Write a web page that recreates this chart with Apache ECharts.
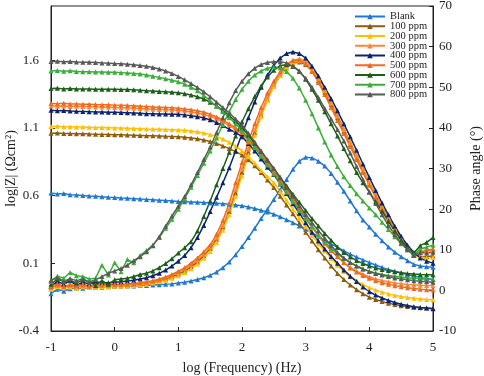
<!DOCTYPE html>
<html>
<head>
<meta charset="utf-8">
<script src="https://cdn.jsdelivr.net/npm/echarts@6/dist/echarts.min.js"></script>
<style>
  html, body { margin: 0; padding: 0; background: #fff; }
  #chart { width: 484px; height: 376px; }
</style>
</head>
<body>
<div id="chart"></div>
<script>
// log(f) grid, Hz
const logFreq = [-1.0,-0.9,-0.8,-0.7,-0.6,-0.5,-0.4,-0.3,-0.2,-0.1,0.0,0.1,0.2,0.3,0.4,0.5,0.6,0.7,0.8,0.9,
  1.0,1.1,1.2,1.3,1.4,1.5,1.6,1.7,1.8,1.9,2.0,2.1,2.2,2.3,2.4,2.5,2.6,2.7,2.8,2.9,
  3.0,3.1,3.2,3.3,3.4,3.5,3.6,3.7,3.8,3.9,4.0,4.1,4.2,4.3,4.4,4.5,4.6,4.7,4.8,4.9,5.0];

const names = ['Blank', '100 ppm', '200 ppm', '300 ppm', '400 ppm', '500 ppm', '600 ppm', '700 ppm', '800 ppm'];
const colors = ['#1f78d1', '#8c5e0a', '#ffc000', '#f9883c', '#0a2472', '#f06b1c', '#1d5e1a', '#3cae3a', '#595959'];

// log|Z| values
const zBlank = [0.62,0.612,0.615,0.606,0.604,0.6,0.597,0.595,0.592,0.588,0.585,0.582,0.58,0.577,0.574,0.572,0.569,0.566,0.563,0.56,
  0.557,0.555,0.553,0.551,0.549,0.546,0.543,0.54,0.536,0.531,0.525,0.516,0.505,0.492,0.478,0.462,0.443,0.422,0.4,0.376,
  0.352,0.325,0.298,0.27,0.243,0.217,0.192,0.168,0.146,0.125,0.105,0.087,0.07,0.055,0.041,0.029,0.017,0.006,-0.004,-0.012,-0.02];
const z100 = [1.06,1.062,1.058,1.059,1.056,1.056,1.054,1.053,1.052,1.051,1.05,1.049,1.048,1.046,1.044,1.042,1.041,1.04,1.038,1.037,
  1.035,1.031,1.026,1.019,1.01,1.0,0.985,0.967,0.947,0.925,0.9,0.865,0.82,0.77,0.715,0.66,0.595,0.53,0.465,0.398,
  0.33,0.265,0.2,0.14,0.08,0.025,-0.02,-0.06,-0.095,-0.125,-0.15,-0.168,-0.183,-0.195,-0.205,-0.213,-0.219,-0.224,-0.228,-0.231,-0.233];
const z200 = [1.11,1.112,1.108,1.109,1.106,1.106,1.104,1.103,1.102,1.101,1.1,1.099,1.097,1.095,1.093,1.091,1.09,1.089,1.088,1.087,
  1.085,1.082,1.077,1.071,1.062,1.05,1.035,1.017,0.993,0.965,0.93,0.888,0.84,0.785,0.74,0.695,0.63,0.565,0.5,0.435,
  0.37,0.305,0.245,0.19,0.135,0.085,0.04,0.0,-0.03,-0.057,-0.08,-0.098,-0.113,-0.126,-0.137,-0.146,-0.153,-0.159,-0.163,-0.167,-0.17];
const z300 = [1.262,1.26,1.261,1.258,1.259,1.257,1.256,1.255,1.254,1.252,1.25,1.249,1.247,1.245,1.243,1.24,1.238,1.236,1.234,1.232,
  1.23,1.225,1.218,1.21,1.199,1.185,1.166,1.144,1.117,1.087,1.052,1.008,0.958,0.895,0.833,0.77,0.705,0.636,0.566,0.498,
  0.43,0.366,0.303,0.244,0.192,0.148,0.106,0.07,0.042,0.019,0.0,-0.015,-0.027,-0.037,-0.045,-0.051,-0.056,-0.059,-0.062,-0.064,-0.065];
const z400 = [1.23,1.226,1.229,1.224,1.222,1.221,1.22,1.218,1.217,1.216,1.215,1.214,1.212,1.21,1.208,1.205,1.204,1.203,1.202,1.201,
  1.2,1.196,1.19,1.183,1.173,1.16,1.14,1.117,1.09,1.065,1.035,0.985,0.93,0.87,0.81,0.755,0.685,0.615,0.54,0.47,
  0.4,0.33,0.265,0.205,0.15,0.1,0.05,0.005,-0.035,-0.075,-0.11,-0.135,-0.156,-0.175,-0.19,-0.202,-0.212,-0.22,-0.226,-0.231,-0.235];
const z500 = [1.28,1.278,1.281,1.276,1.277,1.275,1.274,1.272,1.271,1.27,1.268,1.267,1.265,1.263,1.26,1.257,1.255,1.253,1.251,1.248,
  1.245,1.24,1.234,1.226,1.215,1.2,1.18,1.158,1.13,1.1,1.065,1.02,0.97,0.905,0.845,0.78,0.715,0.645,0.575,0.51,
  0.44,0.375,0.31,0.25,0.195,0.15,0.105,0.065,0.035,0.01,-0.01,-0.028,-0.043,-0.055,-0.065,-0.073,-0.08,-0.086,-0.091,-0.095,-0.098];
const z600 = [1.39,1.392,1.388,1.391,1.387,1.388,1.387,1.386,1.386,1.385,1.385,1.384,1.383,1.381,1.378,1.375,1.372,1.369,1.366,1.363,
  1.36,1.352,1.343,1.33,1.313,1.29,1.262,1.23,1.19,1.148,1.1,1.045,0.985,0.925,0.862,0.8,0.735,0.672,0.61,0.55,
  0.49,0.43,0.375,0.32,0.27,0.22,0.18,0.147,0.12,0.098,0.08,0.066,0.055,0.046,0.037,0.03,0.025,0.021,0.018,0.016,0.015];
const z700 = [1.52,1.523,1.518,1.521,1.516,1.515,1.514,1.513,1.512,1.511,1.51,1.508,1.505,1.502,1.497,1.49,1.482,1.473,1.463,1.452,
  1.44,1.422,1.4,1.375,1.34,1.3,1.26,1.22,1.175,1.13,1.08,1.02,0.955,0.89,0.825,0.76,0.69,0.625,0.555,0.49,
  0.43,0.37,0.31,0.26,0.21,0.17,0.135,0.105,0.08,0.058,0.04,0.028,0.018,0.01,0.004,-0.002,-0.007,-0.011,-0.015,-0.018,-0.02];
const z800 = [1.59,1.592,1.588,1.59,1.586,1.585,1.584,1.582,1.58,1.578,1.575,1.573,1.57,1.566,1.561,1.555,1.546,1.535,1.52,1.502,
  1.48,1.455,1.427,1.398,1.366,1.33,1.29,1.25,1.21,1.165,1.12,1.06,0.995,0.93,0.865,0.8,0.73,0.66,0.595,0.525,
  0.46,0.4,0.34,0.285,0.23,0.18,0.14,0.105,0.08,0.058,0.04,0.025,0.013,0.003,-0.008,-0.015,-0.022,-0.028,-0.033,-0.037,-0.04];

// phase angle values (deg)
const pBlank = [-0.8,0.3,-0.2,0.4,0.6,0.5,0.7,0.8,0.8,0.9,1.0,1.0,1.1,1.1,1.2,1.2,1.3,1.4,1.5,1.6,
  1.8,2.0,2.3,2.7,3.1,3.7,4.5,5.6,7.0,8.8,10.8,13.0,15.3,17.7,20.0,22.4,24.8,27.3,29.8,31.8,
  32.8,32.6,31.8,30.6,28.8,26.6,24.4,22.0,19.6,17.3,15.6,13.8,12.2,10.7,9.4,8.3,7.3,6.4,6.0,5.8,5.7];
const p100 = [0.6,1.1,0.7,1.0,0.8,1.0,0.9,1.0,1.0,1.1,1.1,1.2,1.3,1.4,1.5,1.7,2.0,2.3,2.8,3.3,
  4.0,4.8,5.8,7.0,8.5,10.3,12.6,15.6,19.4,24.0,29.0,34.0,38.8,43.2,47.0,50.3,52.9,54.8,55.9,56.2,
  55.6,54.0,51.6,48.8,45.7,42.5,39.2,35.9,32.6,29.4,26.2,23.1,20.2,17.4,14.8,12.4,10.4,8.7,8.4,8.3,8.5];
const p200 = [0.3,0.9,0.6,0.8,0.5,0.9,0.7,0.8,0.9,0.9,1.0,1.0,1.1,1.2,1.3,1.5,1.8,2.1,2.5,3.0,
  3.6,4.4,5.3,6.5,7.9,9.6,11.8,14.8,18.6,23.2,28.2,33.3,38.2,42.8,46.8,50.2,52.9,54.9,56.1,56.5,
  56.0,54.5,52.1,49.2,46.1,42.9,39.6,36.3,33.0,29.7,26.5,23.4,20.4,17.6,15.0,12.6,10.5,8.8,8.2,8.0,8.1];
const p300 = [0.8,1.2,0.9,1.3,0.9,1.2,1.0,1.1,1.2,1.2,1.3,1.3,1.4,1.5,1.7,1.9,2.2,2.6,3.1,3.7,
  4.4,5.3,6.3,7.5,8.9,10.6,12.9,16.0,20.0,24.8,29.8,34.8,39.5,43.8,47.6,50.8,53.4,55.4,56.6,57.0,
  56.4,54.8,52.3,49.4,46.3,43.1,39.8,36.5,33.2,30.0,26.8,23.7,20.7,17.9,15.3,12.9,10.8,9.0,9.4,9.7,9.9];
const p400 = [1.0,2.2,1.5,2.4,1.2,2.0,1.6,2.2,1.8,1.9,2.0,2.1,2.3,2.5,2.8,3.1,3.6,4.2,5.0,6.0,
  7.2,8.6,10.5,13.0,16.0,19.4,22.9,26.5,30.2,34.3,38.5,42.5,46.4,50.0,53.0,55.4,57.2,58.3,58.7,58.3,
  57.2,55.2,52.8,50.0,47.2,44.2,41.0,37.8,34.5,31.1,27.8,24.6,21.5,18.6,15.8,13.3,11.1,9.3,8.0,7.2,6.7];
const p500 = [1.0,1.6,1.0,1.4,1.2,1.5,1.1,1.3,1.4,1.4,1.5,1.5,1.6,1.7,1.9,2.1,2.4,2.8,3.3,3.9,
  4.7,5.6,6.7,8.0,9.5,11.2,13.8,17.2,21.5,26.5,31.5,36.5,41.0,45.0,48.6,51.5,53.8,55.6,56.6,56.7,
  55.8,53.9,51.2,48.2,45.0,41.8,38.6,35.4,32.2,29.0,25.9,22.9,20.0,17.3,14.8,12.5,10.5,8.8,9.5,9.8,10.2];
const p600 = [1.5,2.8,2.2,2.5,1.8,2.6,2.2,1.2,2.4,1.5,2.6,2.8,3.0,3.4,3.9,4.2,4.8,5.6,6.6,7.8,
  9.2,10.5,12.0,14.6,18.2,22.0,26.0,30.0,34.0,38.0,41.5,44.7,47.7,50.3,52.5,54.2,55.3,55.6,55.2,54.0,
  52.0,49.5,46.8,44.0,41.0,38.0,34.9,31.9,29.0,26.5,24.2,21.9,19.5,17.0,14.6,12.4,10.5,9.2,11.0,11.8,13.0];
const p700 = [2.2,3.5,3.0,4.4,3.6,3.4,2.8,3.0,6.2,3.8,6.8,4.6,7.6,6.8,8.6,9.8,11.2,13.0,15.3,17.5,
  20.0,22.6,25.4,28.3,31.3,34.3,37.5,40.8,44.0,47.0,49.5,51.5,53.0,54.0,54.7,55.0,54.8,53.9,52.2,49.8,
  46.8,43.5,40.0,36.5,33.3,30.5,28.0,25.8,23.8,22.0,20.3,18.6,16.8,15.0,13.2,11.5,10.0,8.8,10.2,10.6,11.2];
const p800 = [2.5,3.2,2.2,2.9,2.4,2.8,2.0,2.6,3.4,4.2,4.8,5.4,6.2,7.3,8.3,9.5,11.0,13.2,15.8,18.3,
  20.7,23.1,26.0,29.0,32.2,35.3,38.8,42.5,46.2,49.2,51.5,53.3,54.7,55.6,56.1,56.3,56.3,56.0,55.2,53.9,
  52.2,50.0,47.5,44.8,42.2,39.6,36.8,33.8,30.5,27.3,24.2,21.4,18.6,16.0,13.7,11.7,10.0,8.6,9.3,9.2,9.4];

const zSets = [zBlank, z100, z200, z300, z400, z500, z600, z700, z800];
const pSets = [pBlank, p100, p200, p300, p400, p500, p600, p700, p800];

const serif = 'Liberation Serif';
const chart = echarts.init(document.getElementById('chart'));

function pairs(arr) {
  return logFreq.map((x, i) => [x, arr[i]]);
}

const series = [];
names.forEach((name, k) => {
  const base = {
    name: name,
    type: 'line',
    symbol: 'triangle',
    symbolSize: 5,
    color: colors[k],
    lineStyle: { width: 1.5 },
    itemStyle: { color: colors[k] }
  };
  series.push(Object.assign({}, base, { yAxisIndex: 0, data: pairs(zSets[k]) }));
  series.push(Object.assign({}, base, { yAxisIndex: 1, data: pairs(pSets[k]) }));
});

const axisText = { color: '#222', fontFamily: serif, fontSize: 13 };

chart.setOption({
  animation: false,
  grid: {
    left: 51, right: 51, top: 6, bottom: 45,
    outerBoundsMode: 'none',
    show: true, borderColor: '#222', borderWidth: 1
  },
  legend: {
    data: names,
    orient: 'vertical',
    left: 349,
    top: 6,
    itemWidth: 30,
    itemHeight: 7,
    itemGap: -1.25,
    textStyle: { fontFamily: serif, fontSize: 10.5, color: '#222' }
  },
  xAxis: {
    type: 'value',
    min: -1, max: 5, interval: 1,
    name: 'log (Frequency) (Hz)',
    nameLocation: 'middle',
    nameGap: 30,
    nameTextStyle: { fontFamily: serif, fontSize: 14, color: '#222' },
    axisLine: { onZero: false, lineStyle: { color: '#222' } },
    axisTick: { inside: true, length: 4, lineStyle: { color: '#222' } },
    axisLabel: Object.assign({ margin: 10 }, axisText),
    splitLine: { show: false }
  },
  yAxis: [
    {
      type: 'value',
      min: -0.4, max: 2.0, interval: 0.5,
      name: 'log|Z| (Ωcm²)',
      nameLocation: 'middle',
      nameRotate: 90,
      nameGap: 33,
      nameMoveOverlap: false,
      nameTextStyle: { fontFamily: serif, fontSize: 14, color: '#222' },
      axisLine: { show: true, onZero: false, lineStyle: { color: '#222' } },
      axisTick: { inside: true, length: 4, lineStyle: { color: '#222' } },
      axisLabel: Object.assign({ margin: 12, showMaxLabel: false, formatter: v => v.toFixed(1) }, axisText),
      splitLine: { show: false }
    },
    {
      type: 'value',
      position: 'right',
      min: -10, max: 70, interval: 10,
      name: 'Phase angle (°)',
      nameLocation: 'middle',
      nameRotate: 90,
      nameGap: 36,
      nameMoveOverlap: false,
      nameTextStyle: { fontFamily: serif, fontSize: 14, color: '#222' },
      axisLine: { show: true, onZero: false, lineStyle: { color: '#222' } },
      axisTick: { inside: true, length: 4, lineStyle: { color: '#222' } },
      axisLabel: Object.assign({ margin: 6 }, axisText),
      splitLine: { show: false }
    }
  ],
  series: series
});
</script>
</body>
</html>
